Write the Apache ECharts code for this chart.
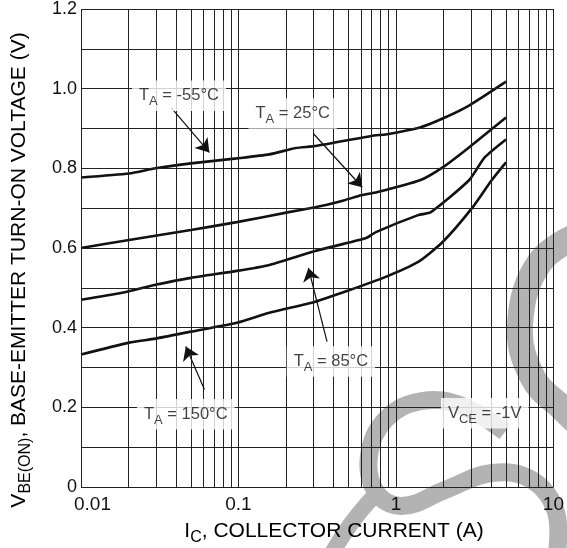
<!DOCTYPE html>
<html>
<head>
<meta charset="utf-8">
<script src="https://cdn.jsdelivr.net/npm/echarts@6/dist/echarts.min.js"></script>
<style>
  html, body { margin: 0; padding: 0; background: #fff; }
  #chart { width: 567px; height: 548px; }
</style>
</head>
<body>
<div id="chart"></div>
<script>
// collector current (A) vs V_BE(on) (V)
const tempM55 = [[0.01, 0.777], [0.0202, 0.787], [0.0297, 0.80], [0.0498, 0.8125], [0.0976, 0.825], [0.157, 0.835],
  [0.231, 0.851], [0.307, 0.856], [0.726, 0.8825], [0.861, 0.885], [1.42, 0.9025], [1.98, 0.925], [2.91, 0.9575], [5.0, 1.0175]];
const temp25 = [[0.01, 0.60], [0.0202, 0.62], [0.0498, 0.645], [0.0976, 0.665], [0.2085, 0.69], [0.307, 0.7025], [0.354, 0.7075],
  [0.472, 0.72], [0.602, 0.7325], [0.757, 0.74], [1.42, 0.77], [1.98, 0.8025], [2.91, 0.8525], [5.0, 0.9275]];
const temp85 = [[0.01, 0.47], [0.01826, 0.4875], [0.0297, 0.5075], [0.0498, 0.525], [0.0976, 0.5425], [0.157, 0.5575],
  [0.307, 0.5925], [0.647, 0.625], [0.746, 0.64], [1.383, 0.6825], [1.667, 0.69], [2.91, 0.77], [3.66, 0.8275], [5.0, 0.8725]];
const temp150 = [[0.01, 0.3325], [0.0202, 0.3625], [0.0297, 0.3725], [0.0498, 0.39], [0.0976, 0.4125], [0.157, 0.4375],
  [0.307, 0.465], [0.493, 0.4925], [0.861, 0.5275], [1.383, 0.565], [1.98, 0.615], [3.04, 0.70], [4.05, 0.77], [5.0, 0.815]];

const xTicks = [0.01, 0.1, 1, 10];
const yTicks = [0, 0.2, 0.4, 0.6, 0.8, 1.0, 1.2];

const FONT = 'Liberation Sans, Arial, sans-serif';
const INK = '#111';

// grid lines: 1..9 in each decade, every 0.1 V
const vLines = [];
[0.01, 0.1, 1].forEach(d => { for (let k = 1; k <= 9; k++) vLines.push(+(d * k).toPrecision(3)); });
vLines.push(10);
const hLines = [];
for (let i = 0; i <= 12; i++) hLines.push(i / 10);

const rich = (size) => {
  const sub = Math.round(size * 0.76);
  return {
    t: { fontSize: size, fontFamily: FONT, color: INK, lineHeight: size + 8, verticalAlign: 'middle' },
    s: { fontSize: sub, fontFamily: FONT, color: INK, lineHeight: sub + 2, verticalAlign: 'bottom' }
  };
};

const notes = [
  { value: [0.0419, 0.9825], text: '{t|T}{s|A}{t| = -55°C}' },
  { value: [0.2209, 0.9375], text: '{t|T}{s|A}{t| = 25°C}' },
  { value: [0.3862, 0.315], text: '{t|T}{s|A}{t| = 85°C}' },
  { value: [0.0463, 0.1825], text: '{t|T}{s|A}{t| = 150°C}' },
  { value: [3.663, 0.185], text: '{t|V}{s|CE}{t| = -1V}' }
];
const arrows = [
  [[0.03737, 0.9525], [0.0653, 0.84]],
  [[0.2985, 0.8875], [0.611, 0.7525]],
  [[0.365, 0.365], [0.2779, 0.55]],
  [[0.0608, 0.245], [0.0463, 0.3525]]
];

const curve = (name, data) => ({
  name, type: 'line', data, z: 4, smooth: 0.2, showSymbol: false, silent: true,
  lineStyle: { color: INK, width: 2.6 }
});

const chart = echarts.init(document.getElementById('chart'));
chart.setOption({
  animation: false,
  grid: { left: 81, right: 4, top: 8, bottom: 61 },
  xAxis: {
    type: 'log', logBase: 10, min: 0.01, max: 10, z: 6,
    axisLine: { show: false },
    axisTick: { show: false },
    splitLine: { show: false },
    axisLabel: {
      fontSize: 19, fontFamily: FONT, color: INK, margin: 8,
      rich: { first: { fontSize: 19, fontFamily: FONT, color: INK, padding: [0, 0, 0, 23] } },
      formatter: v => {
        const t = xTicks.find(x => Math.abs(Math.log10(x) - Math.log10(v)) < 1e-6);
        if (t === undefined) return '';
        return t === xTicks[0] ? '{first|' + t + '}' : String(t);
      }
    }
  },
  yAxis: {
    type: 'value', min: 0, max: 1.2, interval: 0.1, z: 6,
    axisLine: { show: false },
    axisTick: { show: false },
    splitLine: { show: false },
    axisLabel: {
      fontSize: 18, fontFamily: FONT, color: INK, margin: 4,
      formatter: v => {
        const t = yTicks.find(y => Math.abs(y - v) < 1e-6);
        if (t === undefined) return '';
        return t === 0 ? '0' : t.toFixed(1);
      }
    }
  },
  graphic: [
    // watermark swirl
    { type: 'polyline', z: 1, silent: true,
      shape: { points: [[585, 232], [540, 262], [520, 325], [533, 378], [562, 408], [590, 435]], smooth: 0.4 },
      style: { stroke: '#b3b3b3', lineWidth: 26, fill: null } },
    { type: 'polyline', z: 1, silent: true,
      shape: { points: [[505, 432], [462, 406], [422, 401], [386, 419], [369, 456], [376, 492], [402, 506], [445, 490], [492, 473], [532, 480], [556, 512], [556, 560]], smooth: 0.4 },
      style: { stroke: '#b3b3b3', lineWidth: 18, fill: null } },
    { type: 'polyline', z: 1, silent: true,
      shape: { points: [[372, 498], [350, 525], [328, 560]], smooth: 0.4 },
      style: { stroke: '#b3b3b3', lineWidth: 16, fill: null } },
    // axis titles
    { type: 'text', z: 7, x: 334, y: 531,
      style: { text: '{t|I}{s|C}{t|, COLLECTOR CURRENT (A)}', rich: rich(21), align: 'center', verticalAlign: 'middle' } },
    { type: 'text', z: 7, x: 19, y: 270, rotation: Math.PI / 2,
      style: { text: '{t|V}{s|BE(ON)}{t|, BASE-EMITTER TURN-ON VOLTAGE (V)}', rich: rich(21), align: 'center', verticalAlign: 'middle' } }
  ],
  series: [
    {
      name: 'grid', type: 'line', data: [[0.01, 0]], z: 0, silent: true, showSymbol: false,
      lineStyle: { opacity: 0 },
      markLine: {
        silent: true, symbol: 'none', animation: false, label: { show: false },
        lineStyle: { color: '#222', width: 1, type: 'solid' },
        data: vLines.map(v => ({ xAxis: v })).concat(hLines.map(v => ({ yAxis: v })))
      }
    },
    curve('-55°C', tempM55),
    curve('25°C', temp25),
    curve('85°C', temp85),
    curve('150°C', temp150),
    {
      name: 'arrows', type: 'line', data: [[0.01, 0]], z: 4, silent: true, showSymbol: false,
      lineStyle: { opacity: 0 },
      markLine: {
        silent: true, animation: false, symbol: ['none', 'arrow'], symbolSize: 13,
        label: { show: false },
        itemStyle: { color: INK },
        lineStyle: { color: INK, width: 1.2, type: 'solid' },
        data: arrows.map(([a, b]) => [{ coord: a }, { coord: b }])
      }
    },
    {
      name: 'notes', type: 'scatter', z: 5, silent: true, symbolSize: 0,
      data: notes.map(n => ({
        value: n.value,
        label: {
          show: true, position: 'inside', formatter: n.text, rich: rich(16.5),
          backgroundColor: '#fff', padding: [3, 7, 3, 7]
        }
      }))
    }
  ]
});
</script>
</body>
</html>
